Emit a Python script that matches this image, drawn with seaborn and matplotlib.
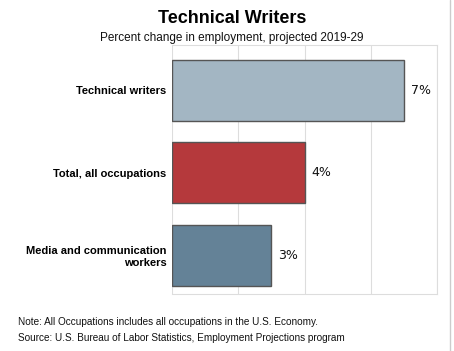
import pandas as pd
import matplotlib.pyplot as plt
import seaborn as sns

categories = ["Technical writers", "Total, all occupations", "Media and communication\nworkers"]
values = [7, 4, 3]
colors = ["#A3B6C3", "#B5393C", "#648297"]

sns.set_theme(style="white")
plt.rcParams["font.family"] = ["Liberation Sans", "DejaVu Sans"]

df = pd.DataFrame({"occupation": categories, "change": values})

fig = plt.figure(figsize=(4.54, 3.51), dpi=100)
ax = fig.add_axes([0.379, 0.162, 0.5837, 0.71])

sns.barplot(data=df, y="occupation", x="change", hue="occupation", palette=colors,
            orient="h", width=0.74, edgecolor="#555555", linewidth=1.0, legend=False, ax=ax,
            zorder=3, saturation=1)

ax.set_xlim(0, 8)
ax.set_ylim(2.47, -0.55)
ax.set_xticks([0, 2, 4, 6, 8])
ax.xaxis.grid(True, color="#dddddd", linewidth=0.8, zorder=0)
ax.set_xticklabels([])
ax.tick_params(axis="both", length=0, pad=4)
ax.set_xlabel("")
ax.set_ylabel("")
for lbl in ax.get_yticklabels():
    lbl.set_fontweight("bold")
    lbl.set_fontsize(8)
    lbl.set_color("black")
for s in ax.spines.values():
    s.set_color("#dddddd")
    s.set_linewidth(0.8)
ax.spines["left"].set_visible(False)

for i, v in enumerate(values):
    ax.text(v + 0.2, i, f"{v}%", va="center", ha="left", fontsize=9,
            family="DejaVu Sans", color="#111111")

fig.text(0.511, 0.948, "Technical Writers", ha="center", va="center",
         fontsize=13, fontweight="bold", color="black")
fig.text(0.511, 0.893, "Percent change in employment, projected 2019-29", ha="center",
         va="center", fontsize=8.5, color="#111111")
fig.text(0.04, 0.082, "Note: All Occupations includes all occupations in the U.S. Economy.",
         ha="left", va="center", fontsize=7.2, color="#111111")
fig.text(0.04, 0.037, "Source: U.S. Bureau of Labor Statistics, Employment Projections program",
         ha="left", va="center", fontsize=7.2, color="#111111")

fig.add_artist(plt.Line2D([0.992, 0.992], [0, 1], color="#cccccc", linewidth=1))

fig.savefig("out.png", dpi=100)
